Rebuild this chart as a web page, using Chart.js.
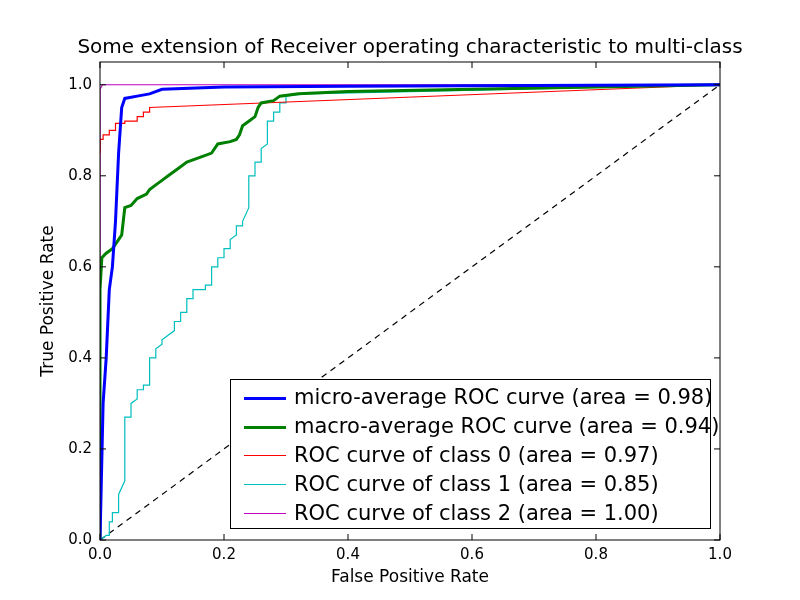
<!DOCTYPE html>
<html>
<head>
<meta charset="utf-8">
<script src="https://cdn.jsdelivr.net/npm/chart.js@4"></script>
<style>
  body { margin: 0; background: #fff; font-family: "DejaVu Sans", sans-serif; }
  #wrap { position: relative; width: 800px; height: 600px; }
  #title { position: absolute; left: 0; width: 820px; top: 34px; text-align: center; font-size: 20px; }
  #legend { position: absolute; left: 230px; top: 379px; width: 481px; height: 150px; border: 1px solid #000; background: #fff; box-sizing: border-box; }
  .row { position: absolute; left: 0; height: 22px; font-size: 21px; line-height: 22px; }
  .row i { position: absolute; left: 13px; top: 11px; width: 42px; }
  .row span { position: absolute; left: 63px; top: 0; white-space: nowrap; }
</style>
</head>
<body>
<div id="wrap">
  <canvas id="c" width="800" height="600"></canvas>
  <div id="title">Some extension of Receiver operating characteristic to multi-class</div>
  <div id="legend"></div>
</div>
<script>
  // Curves, [fpr, tpr]
  const microX = [0, 0.005, 0.01, 0.015, 0.02, 0.025, 0.03, 0.035, 0.04, 0.06, 0.08, 0.1, 0.2, 0.4, 1];
  const microY = [0, 0.3, 0.4, 0.55, 0.6, 0.7, 0.85, 0.95, 0.97, 0.975, 0.98, 0.99, 0.995, 0.997, 1];

  const macroX = [0, 0, 0.003, 0.01, 0.02, 0.03, 0.035, 0.04, 0.05, 0.06, 0.075, 0.08, 0.09, 0.1, 0.11, 0.12, 0.13, 0.14, 0.16, 0.18, 0.19, 0.21, 0.22, 0.225, 0.23, 0.24, 0.25, 0.255, 0.26, 0.28, 0.29, 0.32, 0.4, 0.6, 1];
  const macroY = [0, 0.55, 0.62, 0.63, 0.64, 0.66, 0.67, 0.73, 0.735, 0.75, 0.76, 0.77, 0.78, 0.79, 0.8, 0.81, 0.82, 0.83, 0.84, 0.85, 0.87, 0.875, 0.88, 0.89, 0.91, 0.92, 0.93, 0.95, 0.96, 0.965, 0.975, 0.98, 0.985, 0.99, 1];

  const class0X = [0, 0, 0.005, 0.005, 0.015, 0.015, 0.025, 0.025, 0.04, 0.04, 0.06, 0.06, 0.07, 0.07, 0.08, 0.08, 1];
  const class0Y = [0.85, 0.88, 0.88, 0.89, 0.89, 0.9, 0.9, 0.915, 0.915, 0.92, 0.92, 0.93, 0.93, 0.94, 0.94, 0.95, 1];

  const class1X = [0, 0.01, 0.015, 0.015, 0.02, 0.02, 0.03, 0.03, 0.04, 0.04, 0.05, 0.05, 0.06, 0.06, 0.07, 0.07, 0.08, 0.08, 0.09, 0.09, 0.1, 0.1, 0.12, 0.12, 0.13, 0.13, 0.14, 0.14, 0.15, 0.15, 0.17, 0.17, 0.18, 0.18, 0.19, 0.19, 0.2, 0.2, 0.21, 0.21, 0.22, 0.22, 0.23, 0.23, 0.24, 0.24, 0.25, 0.25, 0.26, 0.26, 0.27, 0.27, 0.28, 0.28, 0.29, 0.29, 0.3, 0.3, 0.33, 0.5, 1];
  const class1Y = [0, 0.01, 0.01, 0.04, 0.04, 0.06, 0.06, 0.1, 0.13, 0.27, 0.27, 0.3, 0.31, 0.33, 0.33, 0.34, 0.34, 0.4, 0.4, 0.42, 0.43, 0.44, 0.46, 0.48, 0.48, 0.5, 0.5, 0.53, 0.53, 0.55, 0.55, 0.56, 0.56, 0.6, 0.6, 0.62, 0.62, 0.64, 0.64, 0.66, 0.67, 0.69, 0.69, 0.7, 0.73, 0.8, 0.8, 0.83, 0.83, 0.86, 0.87, 0.92, 0.92, 0.94, 0.94, 0.96, 0.96, 0.975, 0.98, 0.985, 1];

  const class2X = [0, 0, 0.004, 1];
  const class2Y = [0, 0.99, 1, 1];

  const chanceX = [0, 1];
  const chanceY = [0, 1];

  const xTicks = [0, 0.2, 0.4, 0.6, 0.8, 1.0];
  const yTicks = [0, 0.2, 0.4, 0.6, 0.8, 1.0];

  const series = [
    { label: 'micro-average ROC curve (area = 0.98)', xs: microX, ys: microY, color: '#0000ff', width: 3 },
    { label: 'macro-average ROC curve (area = 0.94)', xs: macroX, ys: macroY, color: '#008000', width: 3 },
    { label: 'ROC curve of class 0 (area = 0.97)', xs: class0X, ys: class0Y, color: '#ff0000', width: 1.2 },
    { label: 'ROC curve of class 1 (area = 0.85)', xs: class1X, ys: class1Y, color: '#00bfbf', width: 1.2 },
    { label: 'ROC curve of class 2 (area = 1.00)', xs: class2X, ys: class2Y, color: '#bf00bf', width: 1.2 }
  ];

  function pts(xs, ys) { return xs.map((x, i) => ({ x, y: ys[i] })); }

  const datasets = series.map(s => ({
    label: s.label, data: pts(s.xs, s.ys), showLine: true, borderColor: s.color,
    borderWidth: s.width, pointRadius: 0, tension: 0, fill: false
  }));
  datasets.push({ label: 'chance', data: pts(chanceX, chanceY), showLine: true, borderColor: '#000',
    borderWidth: 1.2, borderDash: [6, 5], pointRadius: 0 });

  // HTML legend
  const legend = document.getElementById('legend');
  series.forEach((s, i) => {
    const row = document.createElement('div');
    row.className = 'row';
    row.style.top = (6 + i * 29) + 'px';
    row.innerHTML = `<i style="border-top:${s.width}px solid ${s.color}"></i><span>${s.label}</span>`;
    legend.appendChild(row);
  });

  // frame and inward ticks like matplotlib
  const frame = {
    id: 'frame',
    afterDatasetsDraw(chart) {
      const { ctx, chartArea: a, scales } = chart;
      ctx.save();
      ctx.strokeStyle = '#000';
      ctx.lineWidth = 1;
      ctx.strokeRect(a.left, a.top, a.right - a.left, a.bottom - a.top);
      ctx.beginPath();
      xTicks.forEach(v => {
        const px = scales.x.getPixelForValue(v);
        ctx.moveTo(px, a.bottom); ctx.lineTo(px, a.bottom - 6);
        ctx.moveTo(px, a.top); ctx.lineTo(px, a.top + 6);
      });
      yTicks.forEach(v => {
        const py = scales.y.getPixelForValue(v);
        ctx.moveTo(a.left, py); ctx.lineTo(a.left + 6, py);
        ctx.moveTo(a.right, py); ctx.lineTo(a.right - 6, py);
      });
      ctx.stroke();
      ctx.restore();
    }
  };

  const font = { family: 'DejaVu Sans', size: 15 };
  const titleFont = { family: 'DejaVu Sans', size: 17 };
  new Chart(document.getElementById('c'), {
    type: 'scatter',
    data: { datasets },
    options: {
      responsive: false, animation: false,
      layout: { padding: { top: 62, right: 80, left: 38, bottom: 12 } },
      plugins: { legend: { display: false }, tooltip: { enabled: false } },
      scales: {
        x: {
          min: 0, max: 1,
          afterBuildTicks: s => { s.ticks = xTicks.map(v => ({ value: v })); },
          afterFit: s => { s.height = 48; },
          grid: { display: false, drawTicks: false },
          border: { display: false },
          ticks: { color: '#000', font, padding: 6, callback: v => v.toFixed(1) },
          title: { display: true, text: 'False Positive Rate', color: '#000', font: titleFont, padding: 0 }
        },
        y: {
          min: 0, max: 1.05,
          afterBuildTicks: s => { s.ticks = yTicks.map(v => ({ value: v })); },
          afterFit: s => { s.width = 62; },
          grid: { display: false, drawTicks: false },
          border: { display: false },
          ticks: { color: '#000', font, padding: 8, callback: v => v.toFixed(1) },
          title: { display: true, text: 'True Positive Rate', color: '#000', font: titleFont, padding: 0 }
        }
      }
    },
    plugins: [frame]
  });
</script>
</body>
</html>
